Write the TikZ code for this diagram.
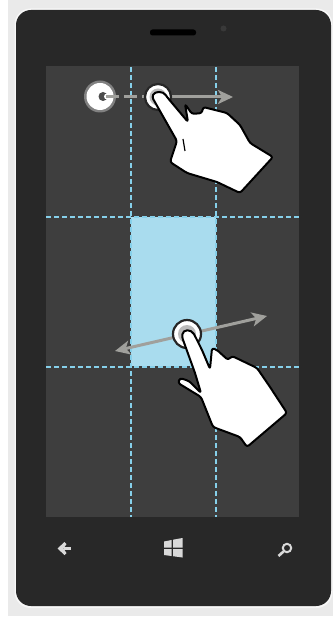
\documentclass[tikz,border=0pt]{standalone}
\usepackage{tikz}
\usetikzlibrary{arrows.meta}

\definecolor{phonebody}{HTML}{282828}
\definecolor{screengray}{HTML}{3E3E3E}
\definecolor{cellblue}{HTML}{A9DCEE}
\definecolor{gridblue}{HTML}{86D0EA}
\definecolor{caseline}{HTML}{EAEAEA}
\definecolor{arrowgray}{HTML}{A0A09C}

\begin{document}
\begin{tikzpicture}[x=1pt, y=-1pt,
    gridline/.style={draw=gridblue, line width=2pt, dash pattern=on 5pt off 3pt},
    swipearrow/.style={draw=arrowgray, line width=3pt, -{Stealth[length=15pt,width=14pt,inset=4pt]}},
    handshape/.style={fill=white, draw=black, line width=2pt, rounded corners=2.5pt, line join=round},
    touchring/.style={fill=white, draw=black!85, line width=2.2pt},
    softkey/.style={fill=white!85!black, draw=none}]
    \useasboundingbox (0,0) rectangle (333,617);

    % case and screen
    \fill[white] (0,0) rectangle (333,617);
    \fill[caseline] (8,0) rectangle (333,616);
    \fill[white!60!caseline, rounded corners=16pt] (14.5,8.5) rectangle (332.5,608);
    \fill[phonebody, rounded corners=15pt] (16,10) rectangle (331,606);
    \fill[screengray] (46,66) rectangle (299,517);
    \fill[cellblue] (131,217) rectangle (216,366);

    % speaker, camera
    \fill[black, rounded corners=2.5pt] (150,29.5) rectangle (196,35.5);
    \fill[gray!45!black] (223.5,28.5) circle (3pt);

    % grid
    \draw[gridline] (131,67) -- (131,517);
    \draw[gridline] (216,67) -- (216,517);
    \draw[gridline] (46,217) -- (299,217);
    \draw[gridline] (46,366.5) -- (299,366.5);

    % top gesture
    \fill[white, opacity=0.35] (100,96.5) circle (16pt);
    \fill[white] (100,96.5) circle (13.5pt);
    \fill[black!70] (103,96.5) circle (4.5pt);
    \fill[white] (107,96.5) circle (3pt);
    \draw[draw=arrowgray, line width=3pt, dash pattern=on 13pt off 5pt] (106,97) -- (146,97);
    \draw[swipearrow] (165,97) -- (233,97);
    \draw[touchring] (158,97) circle (13pt);
    \fill[screengray!35] (158,97) circle (8.5pt);
    \draw[handshape] (152,97) .. controls (155,91) and (163,91) .. (167,97)
        -- (188,122) -- (185,104) -- (192,114) -- (202,113) -- (203,107)
        -- (227,113) -- (240,125) -- (250,143) -- (273,157) -- (240,193)
        -- (217,182) -- (187,173) -- (170,162) -- (177,141) -- cycle;
    \draw[black, line width=1.2pt] (183,139) -- (185,151);

    % bottom gesture
    \draw[draw=arrowgray, line width=3pt, {Stealth[length=15pt,width=14pt,inset=4pt]}-{Stealth[length=15pt,width=14pt,inset=4pt]}] (115,351) -- (267,316);
    \draw[touchring] (187,334) circle (14pt);
    \fill[screengray!35] (187,334) circle (9pt);
    \draw[handshape] (182,337) .. controls (183,329) and (191,329) .. (195,336)
        -- (202,350) -- (210,369) -- (212,348) -- (217,350) -- (228,360) -- (232,356)
        -- (257,368) -- (270,387) -- (287,413) -- (247,447) -- (240,437)
        -- (213,427) -- (201,397) -- (178,383) -- (180,378) -- (189,381)
        -- (201,393) -- (195,373) -- cycle;

    % back key
    \draw[white!85!black, line width=2.4pt] (64,548.5) -- (71,548.5);
    \fill[softkey] (57.5,548.5) -- (64.5,542) -- (66.5,544) -- (63.5,548.5) -- (66.5,553) -- (64.5,555) -- cycle;
    % start key
    \fill[softkey] (164,541.5) -- (171.5,540) -- (171.5,547.5) -- (164,547.5) -- cycle;
    \fill[softkey] (173,539.7) -- (182.5,538) -- (182.5,547.5) -- (173,547.5) -- cycle;
    \fill[softkey] (164,549) -- (171.5,549) -- (171.5,556) -- (164,555) -- cycle;
    \fill[softkey] (173,549) -- (182.5,549) -- (182.5,557.5) -- (173,556.2) -- cycle;
    % search key
    \draw[white!85!black, line width=2pt] (287,548) circle (4.2pt);
    \draw[white!85!black, line width=2.6pt] (283.5,551.5) -- (278.5,556);
\end{tikzpicture}
\end{document}
